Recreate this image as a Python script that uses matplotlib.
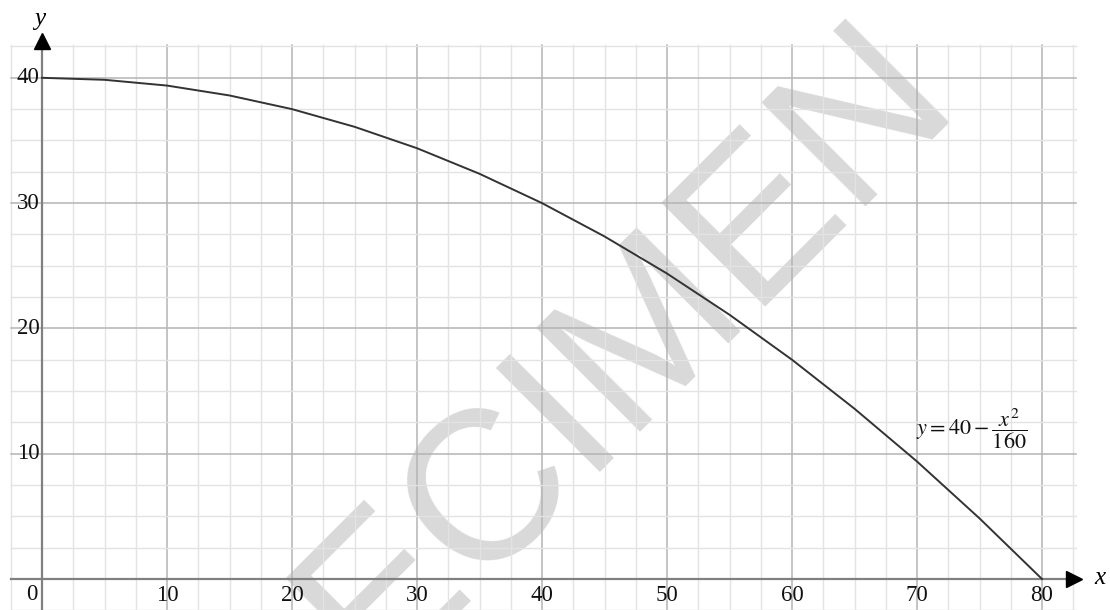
import matplotlib
matplotlib.use("Agg")
import matplotlib.pyplot as plt
import numpy as np

# curve points (y = 40 - x^2/160)
curve_x = [0, 5, 10, 15, 20, 25, 30, 35, 40, 45, 50, 55, 60, 65, 70, 75, 80]
curve_y = [40, 39.84, 39.38, 38.59, 37.5, 36.09, 34.38, 32.34, 30,
           27.34, 24.38, 21.09, 17.5, 13.59, 9.38, 4.84, 0]

x_ticks = [10, 20, 30, 40, 50, 60, 70, 80]
y_ticks = [10, 20, 30, 40]
equation = r'$y=40-\dfrac{x^2}{160}$'
watermark = "SPECIMEN"

plt.rcParams['mathtext.fontset'] = 'stix'

# pixel geometry of the reference: origin at (42, 579), 12.5 px per unit
px_x, px_y = 12.5, 12.53
W, H = 1110, 610
ox, oy = 42, 579

fig = plt.figure(figsize=(11.1, 6.1), dpi=100)
ax = fig.add_axes([0, 0, 1, 1])
ax.set_xlim(-ox / px_x, (W - ox) / px_x)
ax.set_ylim(-(H - oy) / px_y, oy / px_y)
ax.axis('off')

# grid
gx0, gx1 = -2.5, 82.7
gy0, gy1 = -2.6, 42.6
for v in np.arange(-2.5, 82.6, 2.5):
    major = abs(v % 10) < 1e-9
    ax.plot([v, v], [gy0 - 1, gy1], color='#b4b4b4' if major else '#e3e3e3',
            lw=1.1 if major else 1.0, zorder=2)
for v in np.arange(-2.5, 42.6, 2.5):
    major = abs(v % 10) < 1e-9
    ax.plot([gx0, gx1], [v, v], color='#b4b4b4' if major else '#e3e3e3',
            lw=1.1 if major else 1.0, zorder=2)

# watermark, under the grid
ax.text(567 / W, 1 - 495 / H, watermark, transform=ax.transAxes,
        fontsize=153, family='Liberation Sans', color='#d9d9d9',
        rotation=45, rotation_mode='anchor', ha='center', va='baseline',
        zorder=1)

# axes with arrows
ax.plot([-2.5, 82.3], [0, 0], color='#808080', lw=1.6, zorder=3)
ax.plot([0, 0], [-3, 42.8], color='#808080', lw=1.6, zorder=3)
ax.plot([82.56], [0], marker='>', ms=12, color='black', zorder=4, clip_on=False)
ax.plot([0], [42.94], marker='^', ms=12, color='black', zorder=4, clip_on=False)

# curve
ax.plot(curve_x, curve_y, color='#333333', lw=1.4, zorder=5)

# tick labels
serif = 'Liberation Serif'
for t in x_ticks:
    ax.text(t, -1.3, str(t), fontsize=16.5, family=serif, ha='center', va='center',
            color='#111111', zorder=6)
ax.text(-0.8, -1.2, '0', fontsize=16.5, family=serif, ha='center', va='center',
        color='#111111', zorder=6)
for t in y_ticks:
    ax.text(-0.2, t, str(t), fontsize=16.5, family=serif, ha='right', va='center',
            color='#111111', zorder=6)

ax.text(-0.16, 44.7, 'y', fontsize=18, family=serif, style='italic',
        ha='center', va='center', zorder=6)
ax.text(84.6, 0.1, 'x', fontsize=18, family=serif, style='italic',
        ha='center', va='center', zorder=6)

ax.text(74.4, 11.9, equation, fontsize=16, ha='center', va='center',
        color='#111111', zorder=6)

fig.savefig('out.png', dpi=100)
